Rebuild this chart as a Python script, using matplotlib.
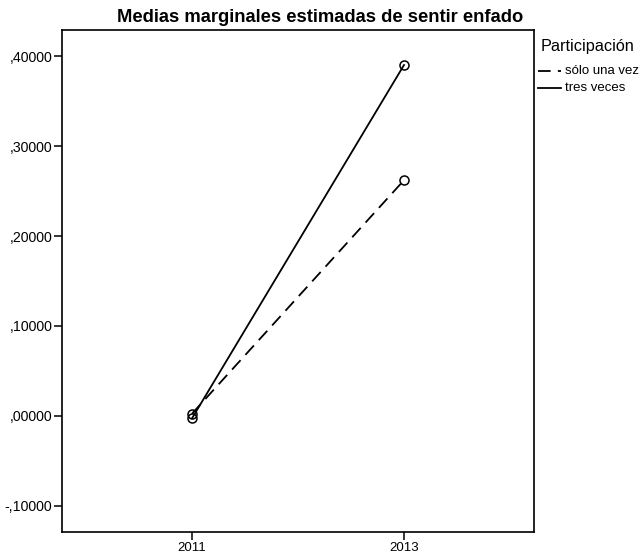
import matplotlib
matplotlib.use("Agg")
import matplotlib.pyplot as plt
from matplotlib.lines import Line2D

plt.rcParams['font.family'] = ['Liberation Sans', 'DejaVu Sans']

years = ["2011", "2013"]
una_vez = [0.0026, 0.262]
tres_veces = [-0.0026, 0.390]
yticks = [-0.1, 0.0, 0.1, 0.2, 0.3, 0.4]
yticklabels = ["-,10000", ",00000", ",10000", ",20000", ",30000", ",40000"]
series_names = ["sólo una vez", "tres veces"]

W, H = 640, 558
fig = plt.figure(figsize=(W/100, H/100), dpi=100)
ax = fig.add_axes([62/W, 1-532/H, (534-62)/W, (532-30)/H])

x = [1, 2]
ax.plot(x, una_vez, color='black', lw=1.3, dashes=(7, 4), marker='o',
        mfc='none', mec='black', ms=6.5, mew=1.1)
ax.plot(x, tres_veces, color='black', lw=1.3, marker='o',
        mfc='none', mec='black', ms=6.5, mew=1.1)

ax.set_xlim(1 - 130/212, 2 + 130/212)
ax.set_ylim(-0.1289, 0.4289)
ax.set_xticks(x)
ax.set_xticklabels(years, fontsize=9.5)
ax.set_yticks(yticks)
ax.set_yticklabels(yticklabels, fontsize=10.2)
ax.tick_params(direction='out', length=6, width=1.1, color='black', pad=1)
for s in ax.spines.values():
    s.set_linewidth(1.2)
    s.set_color('black')

fig.text(0.5, 1-18/H, "Medias marginales estimadas de sentir enfado",
         ha='center', va='center', fontsize=13.2, fontweight='bold')

# legend (drawn in figure pixel coordinates)
def fx(px):
    return px / W

def fy(py):
    return 1 - py / H

fig.text(fx(541), fy(46), "Participación", ha='left', va='center', fontsize=11.7)
fig.add_artist(Line2D([fx(538), fx(561)], [fy(71), fy(71)], color='black',
                      lw=1.3, dashes=(7, 4), transform=fig.transFigure))
fig.add_artist(Line2D([fx(538), fx(561)], [fy(88), fy(88)], color='black',
                      lw=1.3, transform=fig.transFigure))
fig.text(fx(565), fy(71), series_names[0], ha='left', va='center', fontsize=9.5)
fig.text(fx(565), fy(88), series_names[1], ha='left', va='center', fontsize=9.5)

fig.savefig("out.png", dpi=100)
